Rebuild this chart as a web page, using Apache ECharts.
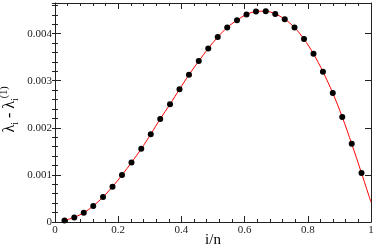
<!DOCTYPE html>
<html>
<head>
<meta charset="utf-8">
<script src="https://cdn.jsdelivr.net/npm/echarts@6/dist/echarts.min.js"></script>
<style>
  html, body { margin: 0; padding: 0; background: #fff; }
  #chart { width: 374px; height: 248px; }
</style>
</head>
<body>
<div id="chart"></div>
<script>
// i/n positions of the dots
const xVals = [0.030, 0.061, 0.091, 0.121, 0.152, 0.182, 0.212, 0.242, 0.273, 0.303, 0.333,
  0.364, 0.394, 0.424, 0.455, 0.485, 0.515, 0.545, 0.576, 0.606, 0.636, 0.667,
  0.697, 0.727, 0.758, 0.788, 0.818, 0.848, 0.879, 0.909, 0.939, 0.970]
// lambda_i - lambda_i^(1)
const yVals = [0.000034, 0.000097, 0.000197, 0.000339, 0.00053, 0.000748, 0.000996, 0.001263,
  0.001553, 0.001864, 0.002189, 0.0025, 0.002818, 0.003127, 0.003417, 0.003686,
  0.003926, 0.004131, 0.004286, 0.004407, 0.00447, 0.004477, 0.004419, 0.004307,
  0.004131, 0.003883, 0.003572, 0.003191, 0.002739, 0.002231, 0.001659, 0.001038]
// the red curve runs on to the right edge
const lineEnd = [1, 0.00042]

const yMax = 0.00465
const font = 'Liberation Serif'
const axisColor = '#222'

const dots = xVals.map((x, i) => [x, yVals[i]])
const curve = dots.concat([lineEnd])

const chart = echarts.init(document.getElementById('chart'))

// 刻度轴（不显示数值）
const tickAxis = (pos, interval, len) => ({
  type: 'value', position: pos, offset: 0, min: 0, max: yMax, interval: interval,
  axisLine: { show: false }, splitLine: { show: false },
  axisLabel: { show: false },
  axisTick: { show: true, inside: true, length: len, lineStyle: { color: axisColor } }
})

const option = {
  backgroundColor: '#fff',
  animation: false,
  grid: { left: 55, right: 3, top: 3, bottom: 26, containLabel: false, outerBoundsMode: 'none' },
  xAxis: [
    {
      type: 'value', min: 0, max: 1, interval: 0.2, position: 'bottom',
      name: 'i/n', nameLocation: 'middle', nameGap: 11, nameMoveOverlap: false,
      nameTextStyle: { fontFamily: font, fontSize: 15, color: '#000' },
      axisLine: { show: true, lineStyle: { color: axisColor } },
      axisTick: { show: true, inside: true, length: 6, lineStyle: { color: axisColor } },
      minorTick: { show: true, splitNumber: 5, length: 3, lineStyle: { color: axisColor } },
      splitLine: { show: false },
      axisLabel: { fontFamily: font, fontSize: 11, color: '#222', margin: 3,
        formatter: v => String(v) }
    },
    {
      type: 'value', min: 0, max: 1, interval: 0.2, position: 'top', offset: 0,
      axisLine: { show: true, onZero: false, lineStyle: { color: axisColor } },
      axisTick: { show: true, inside: true, length: 6, lineStyle: { color: axisColor } },
      minorTick: { show: true, splitNumber: 5, length: 3, lineStyle: { color: axisColor } },
      splitLine: { show: false }, axisLabel: { show: false }
    }
  ],
  yAxis: [
    {
      type: 'value', min: 0, max: yMax, interval: 0.001, position: 'left', offset: 0,
      name: '{l|λ}{sub|i}{l| - λ}{sub|i}{sup|(1)}',
      nameLocation: 'middle', nameGap: 34, nameRotate: 90, nameMoveOverlap: false,
      nameTextStyle: {
        fontFamily: font, fontSize: 16, color: '#000', padding: [0, 0, 0, 6],
        rich: {
          l: { fontFamily: font, fontSize: 16, color: '#000' },
          sub: { fontFamily: font, fontSize: 10, color: '#000', padding: [10, 0, 0, 0] },
          sup: { fontFamily: font, fontSize: 10, color: '#000', padding: [0, 0, 12, 0] }
        }
      },
      axisLine: { show: true, onZero: false, lineStyle: { color: axisColor } },
      axisTick: { show: true, inside: true, length: 6, lineStyle: { color: axisColor } },
      splitLine: { show: false },
      axisLabel: { fontFamily: font, fontSize: 11, color: '#222', margin: 3, showMaxLabel: false,
        formatter: v => (v === 0 ? '0' : v.toFixed(3)) }
    },
    tickAxis('left', 0.0002, 3),
    Object.assign(tickAxis('right', 0.001, 6), { axisLine: { show: true, onZero: false, lineStyle: { color: axisColor } } }),
    tickAxis('right', 0.0002, 3)
  ],
  series: [
    {
      name: 'fit', type: 'line', xAxisIndex: 0, yAxisIndex: 0,
      data: curve, smooth: 0.3, symbol: 'none',
      lineStyle: { color: '#ff0000', width: 1 }, z: 2
    },
    {
      name: 'data', type: 'scatter', xAxisIndex: 0, yAxisIndex: 0,
      data: dots, symbolSize: 6,
      itemStyle: { color: '#000', opacity: 1 }, z: 3
    }
  ]
}

chart.setOption(option)
</script>
</body>
</html>
